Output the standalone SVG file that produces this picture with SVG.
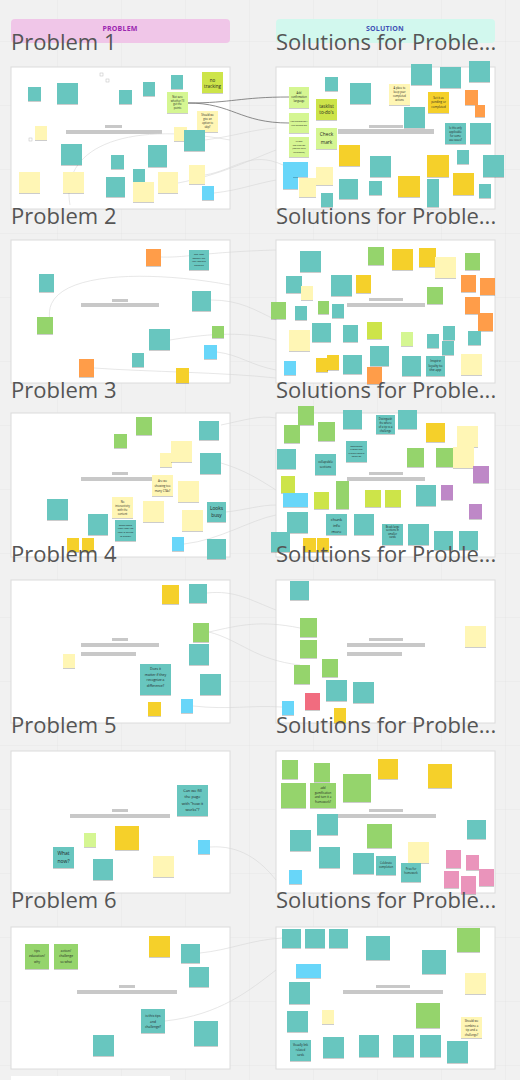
<svg xmlns="http://www.w3.org/2000/svg" width="520" height="1080" viewBox="0 0 520 1080">
<defs>
<pattern id="grid" width="64" height="64" patternUnits="userSpaceOnUse" x="-6" y="-22">
<path d="M64 0V64M0 64H64" fill="none" stroke="#e6e6e6" stroke-width="1"/>
</pattern>
<filter id="sh" x="-20%" y="-20%" width="140%" height="150%">
<feDropShadow dx="0" dy="0.8" stdDeviation="0.6" flood-color="#000" flood-opacity="0.25"/>
</filter>
</defs>
<style>
.panel{fill:#fff;stroke:#dcdcdc;stroke-width:1}
.bar{fill:#c8c8c8}
.t{fill:#67c6bf;filter:url(#sh)}
.y{fill:#f5d02a;filter:url(#sh)}
.py{fill:#fff6b5;filter:url(#sh)}
.g{fill:#95d46c;filter:url(#sh)}
.l{fill:#cde44a;filter:url(#sh)}
.lg{fill:#d5f692;filter:url(#sh)}
.o{fill:#ff9d48;filter:url(#sh)}
.b{fill:#67d6f9;filter:url(#sh)}
.v{fill:#be88c7;filter:url(#sh)}
.p{fill:#ea94bb;filter:url(#sh)}
.r{fill:#f16c7f;filter:url(#sh)}
.h{fill:#fff;stroke:#bdbdbd;stroke-width:0.5}
.tx{font-family:"Open Sans","Liberation Sans",sans-serif;fill:#1f1f1f;text-anchor:middle}
.lbl{font-family:"Open Sans","Liberation Sans",sans-serif;font-size:22px;fill:#555}
.hd{font-family:"Open Sans","Liberation Sans",sans-serif;font-size:7px;font-weight:bold;text-anchor:middle;letter-spacing:0.2px}
.cf{fill:none;stroke:#d6d6d6;stroke-width:0.6}
.cd{fill:none;stroke:#6e6e6e;stroke-width:0.8}
</style>
<rect width="520" height="1080" fill="#f1f1f1"/>
<rect width="520" height="1080" fill="url(#grid)"/>

<g id="headers">
<rect x="11" y="19" width="219" height="24" rx="4" fill="#f0c6e8"/>
<text class="hd" x="120" y="31" fill="#9c27b0">PROBLEM</text>
<rect x="276" y="19" width="219" height="24" rx="4" fill="#d2f8ee"/>
<text class="hd" x="385" y="31" fill="#3f51b5">SOLUTION</text>
</g>

<g id="panels">
<rect class="panel" x="11" y="67" width="219" height="142"/>
<rect class="panel" x="276" y="67" width="219" height="142"/>
<rect class="panel" x="11" y="240" width="219" height="143"/>
<rect class="panel" x="276" y="240" width="219" height="143"/>
<rect class="panel" x="11" y="413" width="219" height="144"/>
<rect class="panel" x="276" y="413" width="219" height="144"/>
<rect class="panel" x="11" y="580" width="219" height="143"/>
<rect class="panel" x="276" y="580" width="219" height="143"/>
<rect class="panel" x="11" y="751" width="219" height="142"/>
<rect class="panel" x="276" y="751" width="219" height="142"/>
<rect class="panel" x="11" y="927" width="219" height="142"/>
<rect class="panel" x="276" y="927" width="219" height="142"/>
<rect x="11" y="1076" width="159" height="6" fill="#fff"/>
</g>

<g id="bars">
<rect class="bar" x="105" y="125" width="17" height="3"/><rect class="bar" x="66" y="130" width="96" height="4"/>
<rect class="bar" x="369" y="125" width="34" height="3"/><rect class="bar" x="338" y="129" width="96" height="5"/>
<rect class="bar" x="112" y="299" width="16" height="3"/><rect class="bar" x="81" y="303" width="78" height="4"/>
<rect class="bar" x="369" y="298" width="34" height="3"/><rect class="bar" x="347" y="303" width="78" height="4"/>
<rect class="bar" x="112" y="472" width="16" height="3"/><rect class="bar" x="81" y="477" width="78" height="4"/>
<rect class="bar" x="369" y="472" width="34" height="3"/><rect class="bar" x="347" y="477" width="78" height="4"/>
<rect class="bar" x="112" y="638" width="16" height="3"/><rect class="bar" x="81" y="643" width="78" height="4"/><rect class="bar" x="81" y="652" width="55" height="4"/>
<rect class="bar" x="369" y="638" width="34" height="3"/><rect class="bar" x="347" y="643" width="78" height="4"/><rect class="bar" x="347" y="652" width="55" height="4"/>
<rect class="bar" x="112" y="809" width="16" height="3"/><rect class="bar" x="70" y="814" width="100" height="4"/>
<rect class="bar" x="369" y="809" width="34" height="3"/><rect class="bar" x="337" y="814" width="99" height="4"/>
<rect class="bar" x="119" y="985" width="16" height="3"/><rect class="bar" x="77" y="990" width="100" height="4"/>
<rect class="bar" x="376" y="985" width="34" height="3"/><rect class="bar" x="343" y="990" width="100" height="4"/>
</g>

<g id="connectors">
<path class="cf" d="M205,140 C240,135 250,130 276,128"/>
<path class="cf" d="M205,175 C235,170 250,150 283,165"/>
<path class="cf" d="M214,193 C240,190 250,185 276,180"/>
<path class="cf" d="M178,183 C220,175 250,160 276,150"/>
<path class="cf" d="M70,205 C60,150 120,120 230,140"/>
<path class="cf" d="M161,257 C185,258 205,252 276,250"/>
<path class="cf" d="M211,300 C240,300 255,310 276,320"/>
<path class="cf" d="M170,340 C200,335 240,330 276,340"/>
<path class="cf" d="M217,352 C240,355 250,365 276,370"/>
<path class="cf" d="M94,368 C150,372 220,372 276,378"/>
<path class="cf" d="M50,320 C40,270 150,270 230,285"/>
<path class="cf" d="M221,425 C245,420 260,415 276,418"/>
<path class="cf" d="M221,463 C245,470 260,480 276,490"/>
<path class="cf" d="M184,544 C220,540 250,520 276,515"/>
<path class="cf" d="M226,512 C245,510 260,505 276,505"/>
<path class="cf" d="M209,632 C240,640 255,660 300,665"/>
<path class="cf" d="M209,632 C240,625 260,620 300,628"/>
<path class="cf" d="M207,593 C235,590 250,600 276,610"/>
<path class="cf" d="M193,706 C230,710 250,705 282,707"/>
<path class="cf" d="M210,847 C240,845 260,860 276,880"/>
<path class="cf" d="M200,953 C230,950 250,940 282,938"/>
<path class="cf" d="M165,1021 C220,1015 250,990 276,970"/>
<path class="cd" d="M188,103 C232,103 240,97 289,97"/>
<path class="cd" d="M188,103 C232,103 240,123 289,123"/>
</g>

<g id="row1-left">
<rect class="h" x="100" y="73" width="3" height="3"/><rect class="h" x="106" y="79" width="3" height="3"/><rect class="h" x="29" y="138" width="3" height="3"/>
<g id="r1l1"><rect class="t" x="28" y="87" width="13" height="14"/></g>
<g id="r1l2"><rect class="t" x="57" y="83" width="21" height="21"/></g>
<g id="r1l3"><rect class="t" x="119" y="90" width="13" height="14"/></g>
<g id="r1l4"><rect class="t" x="143" y="82" width="12" height="14"/></g>
<g id="r1l5"><rect class="t" x="171" y="75" width="12" height="14"/></g>
<g id="r1l6"><rect class="l" x="202" y="72" width="21" height="21"/><text class="tx" font-size="4.5" x="212.5" y="82">no</text><text class="tx" font-size="4.5" x="212.5" y="87.5">tracking</text></g>
<g id="r1l7"><rect class="lg" x="167" y="92" width="21" height="21"/><text class="tx" font-size="2.6" x="177.5" y="98">Not sure</text><text class="tx" font-size="2.6" x="177.5" y="101.5">whether I'll</text><text class="tx" font-size="2.6" x="177.5" y="105">get the</text><text class="tx" font-size="2.6" x="177.5" y="108.5">points</text></g>
<g id="r1l8"><rect class="py" x="197" y="111" width="21" height="21"/><text class="tx" font-size="2.6" x="207.5" y="116">Should we</text><text class="tx" font-size="2.6" x="207.5" y="120">give an</text><text class="tx" font-size="2.6" x="207.5" y="124">option to</text><text class="tx" font-size="2.6" x="207.5" y="128">skip?</text></g>
<g id="r1l9"><rect class="py" x="35" y="126" width="12" height="14"/></g>
<g id="r1l10"><rect class="py" x="174" y="127" width="13" height="14"/></g>
<g id="r1l11"><rect class="t" x="184" y="130" width="21" height="21"/></g>
<g id="r1l12"><rect class="t" x="61" y="144" width="21" height="21"/></g>
<g id="r1l13"><rect class="t" x="148" y="145" width="19" height="22"/></g>
<g id="r1l14"><rect class="t" x="111" y="155" width="13" height="14"/></g>
<g id="r1l15"><rect class="py" x="19" y="172" width="21" height="21"/></g>
<g id="r1l16"><rect class="py" x="63" y="172" width="21" height="21"/></g>
<g id="r1l17"><rect class="t" x="133" y="169" width="12" height="13"/></g>
<g id="r1l18"><rect class="t" x="106" y="177" width="19" height="20"/></g>
<g id="r1l19"><rect class="py" x="133" y="182" width="21" height="20"/></g>
<g id="r1l20"><rect class="py" x="158" y="172" width="20" height="21"/></g>
<g id="r1l21"><rect class="py" x="189" y="165" width="16" height="19"/></g>
<g id="r1l22"><rect class="b" x="202" y="186" width="12" height="14"/></g>
</g>

<g id="row1-right">
<g id="r1r1"><rect class="t" x="325" y="77" width="13" height="14"/></g>
<g id="r1r2"><rect class="lg" x="289" y="87" width="20" height="21"/><text class="tx" font-size="2.6" x="299" y="94">Add</text><text class="tx" font-size="2.6" x="299" y="98">confirmation</text><text class="tx" font-size="2.6" x="299" y="102">language</text></g>
<g id="r1r3"><rect class="t" x="350" y="83" width="21" height="21"/></g>
<g id="r1r4"><rect class="l" x="316" y="99" width="21" height="21"/><text class="tx" font-size="4.5" x="326.5" y="107.5">tasklist</text><text class="tx" font-size="4.5" x="326.5" y="113.5">to-do's</text></g>
<g id="r1r5"><rect class="py" x="389" y="84" width="21" height="21"/><text class="tx" font-size="2.6" x="399.5" y="89">A place to</text><text class="tx" font-size="2.6" x="399.5" y="93">keep your</text><text class="tx" font-size="2.6" x="399.5" y="97">completed</text><text class="tx" font-size="2.6" x="399.5" y="101">actions</text></g>
<g id="r1r6"><rect class="t" x="411" y="64" width="21" height="21"/></g>
<g id="r1r7"><rect class="t" x="440" y="67" width="21" height="21"/></g>
<g id="r1r8"><rect class="t" x="469" y="61" width="21" height="21"/></g>
<g id="r1r9"><rect class="y" x="428" y="92" width="21" height="21"/><text class="tx" font-size="2.9" x="438.5" y="98.5">Set it as</text><text class="tx" font-size="2.9" x="438.5" y="103">pending or</text><text class="tx" font-size="2.9" x="438.5" y="107.5">completed</text></g>
<g id="r1r10"><rect class="o" x="465" y="90" width="13" height="15"/></g>
<g id="r1r11"><rect class="o" x="475" y="105" width="10" height="12"/></g>
<g id="r1r12"><rect class="lg" x="289" y="113" width="20" height="20"/><text class="tx" font-size="2.4" x="299" y="122">Add animation /</text><text class="tx" font-size="2.4" x="299" y="125.5">tick animation</text></g>
<g id="r1r13"><rect class="t" x="404" y="107" width="21" height="21"/></g>
<g id="r1r14"><rect class="lg" x="316" y="128" width="21" height="21"/><text class="tx" font-size="4.8" x="326.5" y="136">Check</text><text class="tx" font-size="4.8" x="326.5" y="144">mark</text></g>
<g id="r1r15"><rect class="lg" x="289" y="137" width="20" height="20"/><text class="tx" font-size="2.4" x="299" y="142">In app</text><text class="tx" font-size="2.4" x="299" y="145.5">notification</text><text class="tx" font-size="2.4" x="299" y="149">(maybe with</text><text class="tx" font-size="2.4" x="299" y="152.5">reference)</text></g>
<g id="r1r16"><rect class="t" x="445" y="123" width="21" height="21"/><text class="tx" font-size="2.6" x="455.5" y="128.5">Is this only</text><text class="tx" font-size="2.6" x="455.5" y="132.5">applicable</text><text class="tx" font-size="2.6" x="455.5" y="136.5">for some</text><text class="tx" font-size="2.6" x="455.5" y="140.5">use cases?</text></g>
<g id="r1r17"><rect class="t" x="470" y="123" width="21" height="21"/></g>
<g id="r1r18"><rect class="y" x="339" y="145" width="21" height="21"/></g>
<g id="r1r19"><rect class="t" x="370" y="156" width="21" height="21"/></g>
<g id="r1r20"><rect class="t" x="457" y="150" width="12" height="14"/></g>
<g id="r1r21"><rect class="y" x="427" y="155" width="22" height="22"/></g>
<g id="r1r22"><rect class="t" x="483" y="155" width="21" height="22"/></g>
<g id="r1r23"><rect class="b" x="283" y="162" width="15" height="27"/><rect class="b" x="293" y="162" width="15" height="15"/></g>
<g id="r1r24"><rect class="py" x="316" y="167" width="17" height="18"/></g>
<g id="r1r25"><rect class="py" x="299" y="178" width="17" height="19"/></g>
<g id="r1r26"><rect class="t" x="321" y="193" width="12" height="14"/></g>
<g id="r1r27"><rect class="t" x="339" y="179" width="19" height="20"/></g>
<g id="r1r28"><rect class="t" x="369" y="181" width="13" height="14"/></g>
<g id="r1r29"><rect class="y" x="398" y="176" width="22" height="21"/></g>
<g id="r1r30"><rect class="t" x="427" y="179" width="12" height="28"/></g>
<g id="r1r31"><rect class="y" x="453" y="173" width="21" height="22"/></g>
<g id="r1r32"><rect class="t" x="479" y="184" width="12" height="14"/></g>
</g>

<g id="row2-left">
<g id="r2l1"><rect class="o" x="146" y="249" width="15" height="17"/></g>
<g id="r2l2"><rect class="t" x="189" y="250" width="20" height="20"/><text class="tx" font-size="2.5" x="199" y="255">The user</text><text class="tx" font-size="2.5" x="199" y="258.5">doesn't get</text><text class="tx" font-size="2.5" x="199" y="262">the tangible</text><text class="tx" font-size="2.5" x="199" y="265.5">benefits</text></g>
<g id="r2l3"><rect class="t" x="39" y="274" width="15" height="18"/></g>
<g id="r2l4"><rect class="t" x="192" y="291" width="19" height="20"/></g>
<g id="r2l5"><rect class="g" x="37" y="317" width="16" height="17"/></g>
<g id="r2l6"><rect class="g" x="212" y="326" width="12" height="12"/></g>
<g id="r2l7"><rect class="t" x="149" y="329" width="21" height="21"/></g>
<g id="r2l8"><rect class="b" x="204" y="345" width="13" height="14"/></g>
<g id="r2l9"><rect class="t" x="132" y="353" width="12" height="14"/></g>
<g id="r2l10"><rect class="o" x="79" y="359" width="15" height="18"/></g>
<g id="r2l11"><rect class="y" x="176" y="368" width="13" height="15"/></g>
</g>

<g id="row2-right">
<g id="r2r1"><rect class="t" x="300" y="251" width="21" height="21"/></g>
<g id="r2r2"><rect class="g" x="368" y="247" width="16" height="18"/></g>
<g id="r2r3"><rect class="y" x="392" y="249" width="21" height="21"/></g>
<g id="r2r4"><rect class="y" x="419" y="248" width="17" height="19"/></g>
<g id="r2r5"><rect class="py" x="435" y="257" width="21" height="21"/></g>
<g id="r2r6"><rect class="g" x="465" y="253" width="15" height="17"/></g>
<g id="r2r7"><rect class="t" x="286" y="276" width="16" height="17"/></g>
<g id="r2r8"><rect class="py" x="301" y="286" width="12" height="14"/></g>
<g id="r2r9"><rect class="t" x="331" y="275" width="21" height="21"/></g>
<g id="r2r10"><rect class="y" x="356" y="275" width="15" height="18"/></g>
<g id="r2r11"><rect class="o" x="461" y="275" width="15" height="17"/></g>
<g id="r2r12"><rect class="o" x="480" y="278" width="15" height="17"/></g>
<g id="r2r13"><rect class="g" x="427" y="287" width="16" height="17"/></g>
<g id="r2r14"><rect class="g" x="271" y="302" width="15" height="17"/></g>
<g id="r2r15"><rect class="t" x="295" y="306" width="12" height="14"/></g>
<g id="r2r16"><rect class="g" x="318" y="301" width="11" height="13"/></g>
<g id="r2r17"><rect class="t" x="332" y="304" width="12" height="14"/></g>
<g id="r2r18"><rect class="o" x="465" y="297" width="15" height="17"/></g>
<g id="r2r19"><rect class="o" x="478" y="313" width="15" height="18"/></g>
<g id="r2r20"><rect class="l" x="367" y="322" width="15" height="17"/></g>
<g id="r2r21"><rect class="t" x="343" y="325" width="15" height="17"/></g>
<g id="r2r22"><rect class="t" x="312" y="323" width="19" height="19"/></g>
<g id="r2r23"><rect class="py" x="289" y="330" width="21" height="21"/></g>
<g id="r2r24"><rect class="lg" x="401" y="332" width="12" height="14"/></g>
<g id="r2r25"><rect class="t" x="443" y="326" width="12" height="14"/></g>
<g id="r2r26"><rect class="t" x="427" y="334" width="12" height="14"/></g>
<g id="r2r27"><rect class="t" x="442" y="341" width="12" height="14"/></g>
<g id="r2r28"><rect class="t" x="468" y="331" width="13" height="14"/></g>
<g id="r2r29"><rect class="t" x="370" y="346" width="19" height="20"/></g>
<g id="r2r30"><rect class="b" x="284" y="361" width="12" height="14"/></g>
<g id="r2r31"><rect class="y" x="316" y="358" width="12" height="14"/><rect class="y" x="327" y="355" width="12" height="15"/></g>
<g id="r2r32"><rect class="t" x="343" y="355" width="19" height="19"/></g>
<g id="r2r33"><rect class="o" x="367" y="367" width="15" height="17"/></g>
<g id="r2r34"><rect class="t" x="402" y="356" width="19" height="20"/></g>
<g id="r2r35"><rect class="t" x="426" y="356" width="19" height="20"/><text class="tx" font-size="3.3" x="435.5" y="362">Inspire</text><text class="tx" font-size="3.3" x="435.5" y="366.5">loyalty to</text><text class="tx" font-size="3.3" x="435.5" y="371">the app</text></g>
<g id="r2r36"><rect class="py" x="461" y="354" width="21" height="21"/></g>
</g>

<g id="row3-left">
<g id="r3l1"><rect class="g" x="136" y="417" width="16" height="18"/></g>
<g id="r3l2"><rect class="t" x="199" y="421" width="20" height="19"/></g>
<g id="r3l3"><rect class="g" x="114" y="434" width="13" height="14"/></g>
<g id="r3l4"><rect class="py" x="160" y="453" width="12" height="14"/></g>
<g id="r3l5"><rect class="py" x="171" y="441" width="21" height="21"/></g>
<g id="r3l6"><rect class="t" x="200" y="453" width="21" height="21"/></g>
<g id="r3l7"><rect class="py" x="152" y="475" width="21" height="21"/><text class="tx" font-size="2.8" x="162.5" y="482">Are we</text><text class="tx" font-size="2.8" x="162.5" y="487">showing too</text><text class="tx" font-size="2.8" x="162.5" y="492">many CTAs?</text></g>
<g id="r3l8"><rect class="py" x="178" y="481" width="21" height="21"/></g>
<g id="r3l9"><rect class="t" x="47" y="499" width="21" height="21"/></g>
<g id="r3l10"><rect class="py" x="112" y="497" width="21" height="21"/><text class="tx" font-size="2.7" x="122.5" y="503">No</text><text class="tx" font-size="2.7" x="122.5" y="507">interactivity</text><text class="tx" font-size="2.7" x="122.5" y="511">with the</text><text class="tx" font-size="2.7" x="122.5" y="515">content</text></g>
<g id="r3l11"><rect class="py" x="143" y="501" width="21" height="21"/></g>
<g id="r3l12"><rect class="t" x="207" y="502" width="19" height="20"/><text class="tx" font-size="4.8" x="216.5" y="510">Looks</text><text class="tx" font-size="4.8" x="216.5" y="517">busy</text></g>
<g id="r3l13"><rect class="py" x="182" y="510" width="21" height="21"/></g>
<g id="r3l14"><rect class="t" x="88" y="514" width="20" height="21"/></g>
<g id="r3l15"><rect class="t" x="115" y="520" width="21" height="21"/><text class="tx" font-size="2.5" x="125.5" y="525.5">Takes more</text><text class="tx" font-size="2.5" x="125.5" y="529.2">time than the</text><text class="tx" font-size="2.5" x="125.5" y="532.9">user is willing</text><text class="tx" font-size="2.5" x="125.5" y="536.6">to submit</text></g>
<g id="r3l16"><rect class="b" x="172" y="537" width="12" height="14"/></g>
<g id="r3l17"><rect class="t" x="207" y="539" width="19" height="20"/></g>
<g id="r3l18"><rect class="y" x="67" y="538" width="12" height="14"/><rect class="y" x="82" y="538" width="12" height="14"/></g>
</g>

<g id="row3-right">
<g id="r3r1"><rect class="g" x="298" y="406" width="16" height="19"/></g>
<g id="r3r2"><rect class="g" x="284" y="425" width="16" height="18"/></g>
<g id="r3r3"><rect class="g" x="318" y="422" width="17" height="19"/></g>
<g id="r3r4"><rect class="t" x="343" y="410" width="19" height="19"/></g>
<g id="r3r5"><rect class="t" x="376" y="415" width="19" height="19"/><text class="tx" font-size="2.6" x="385.5" y="419.5">Distinguish</text><text class="tx" font-size="2.6" x="385.5" y="423.5">the where</text><text class="tx" font-size="2.6" x="385.5" y="427.5">of a tip vs a</text><text class="tx" font-size="2.6" x="385.5" y="431.5">challenge</text></g>
<g id="r3r6"><rect class="t" x="398" y="410" width="19" height="19"/></g>
<g id="r3r7"><rect class="y" x="426" y="423" width="19" height="19"/></g>
<g id="r3r8"><rect class="py" x="457" y="426" width="21" height="21"/></g>
<g id="r3r9"><rect class="t" x="277" y="449" width="19" height="20"/></g>
<g id="r3r10"><rect class="t" x="315" y="454" width="21" height="21"/><text class="tx" font-size="3" x="325.5" y="463">collapsible</text><text class="tx" font-size="3" x="325.5" y="467.5">sections</text></g>
<g id="r3r11"><rect class="t" x="346" y="441" width="21" height="21"/><text class="tx" font-size="2.4" x="356.5" y="446.5">Embedded</text><text class="tx" font-size="2.4" x="356.5" y="450">videos that</text><text class="tx" font-size="2.4" x="356.5" y="453.5">explain what's</text><text class="tx" font-size="2.4" x="356.5" y="457">going on</text></g>
<g id="r3r12"><rect class="g" x="407" y="448" width="17" height="19"/></g>
<g id="r3r13"><rect class="g" x="436" y="448" width="17" height="19"/></g>
<g id="r3r14"><rect class="py" x="453" y="447" width="21" height="21"/></g>
<g id="r3r15"><rect class="v" x="473" y="466" width="16" height="17"/></g>
<g id="r3r16"><rect class="l" x="281" y="476" width="14" height="17"/></g>
<g id="r3r17"><rect class="b" x="283" y="493" width="25" height="14"/></g>
<g id="r3r18"><rect class="l" x="314" y="492" width="15" height="17"/></g>
<g id="r3r19"><rect class="g" x="336" y="481" width="13" height="28"/></g>
<g id="r3r20"><rect class="l" x="365" y="490" width="16" height="17"/></g>
<g id="r3r21"><rect class="l" x="385" y="490" width="16" height="17"/></g>
<g id="r3r22"><rect class="t" x="416" y="485" width="20" height="21"/></g>
<g id="r3r23"><rect class="v" x="441" y="485" width="12" height="15"/></g>
<g id="r3r24"><rect class="v" x="469" y="504" width="13" height="15"/></g>
<g id="r3r25"><rect class="t" x="287" y="512" width="21" height="21"/></g>
<g id="r3r26"><rect class="t" x="326" y="514" width="21" height="21"/><text class="tx" font-size="4" x="336.5" y="520.5">chunk</text><text class="tx" font-size="4" x="336.5" y="526.5">info</text><text class="tx" font-size="4" x="336.5" y="532.5">more</text></g>
<g id="r3r27"><rect class="t" x="354" y="514" width="20" height="21"/></g>
<g id="r3r28"><rect class="t" x="382" y="524" width="21" height="21"/><text class="tx" font-size="2.6" x="392.5" y="528">Break large</text><text class="tx" font-size="2.6" x="392.5" y="531.3">sections in</text><text class="tx" font-size="2.6" x="392.5" y="534.6">smaller</text><text class="tx" font-size="2.6" x="392.5" y="537.9">cards</text></g>
<g id="r3r29"><rect class="t" x="408" y="524" width="21" height="21"/></g>
<g id="r3r30"><rect class="t" x="434" y="531" width="19" height="19"/></g>
<g id="r3r31"><rect class="t" x="459" y="531" width="19" height="19"/></g>
<g id="r3r32"><rect class="t" x="271" y="532" width="19" height="20"/></g>
<g id="r3r33"><rect class="y" x="303" y="538" width="13" height="14"/><rect class="y" x="317" y="538" width="12" height="14"/></g>
</g>

<g id="row4-left">
<g id="r4l1"><rect class="y" x="162" y="585" width="17" height="19"/></g>
<g id="r4l2"><rect class="t" x="189" y="584" width="18" height="19"/></g>
<g id="r4l3"><rect class="g" x="193" y="623" width="16" height="19"/></g>
<g id="r4l4"><rect class="t" x="189" y="644" width="20" height="21"/></g>
<g id="r4l5"><rect class="py" x="63" y="654" width="12" height="14"/></g>
<g id="r4l6"><rect class="t" x="140" y="664" width="31" height="31"/><text class="tx" font-size="3.4" x="155.5" y="670">Does it</text><text class="tx" font-size="3.4" x="155.5" y="675.5">matter if they</text><text class="tx" font-size="3.4" x="155.5" y="681">recognize a</text><text class="tx" font-size="3.4" x="155.5" y="686.5">difference?</text></g>
<g id="r4l7"><rect class="t" x="200" y="674" width="21" height="21"/></g>
<g id="r4l8"><rect class="b" x="181" y="699" width="12" height="14"/></g>
<g id="r4l9"><rect class="y" x="148" y="702" width="13" height="14"/></g>
</g>

<g id="row4-right">
<g id="r4r1"><rect class="t" x="290" y="581" width="19" height="19"/></g>
<g id="r4r2"><rect class="g" x="300" y="618" width="17" height="19"/></g>
<g id="r4r3"><rect class="g" x="300" y="640" width="17" height="18"/></g>
<g id="r4r4"><rect class="py" x="465" y="626" width="21" height="21"/></g>
<g id="r4r5"><rect class="g" x="294" y="665" width="16" height="19"/></g>
<g id="r4r6"><rect class="g" x="322" y="659" width="16" height="18"/></g>
<g id="r4r7"><rect class="t" x="326" y="680" width="21" height="21"/></g>
<g id="r4r8"><rect class="t" x="353" y="682" width="21" height="21"/></g>
<g id="r4r9"><rect class="r" x="305" y="693" width="15" height="17"/></g>
<g id="r4r10"><rect class="b" x="282" y="701" width="12" height="14"/></g>
<g id="r4r11"><rect class="y" x="334" y="708" width="12" height="15"/></g>
</g>

<g id="row5-left">
<g id="r5l1"><rect class="t" x="177" y="785" width="31" height="31"/><text class="tx" font-size="3.9" x="192.5" y="791.5">Can we fill</text><text class="tx" font-size="3.9" x="192.5" y="798">the page</text><text class="tx" font-size="3.9" x="192.5" y="804.5">with "how it</text><text class="tx" font-size="3.9" x="192.5" y="811">works"?</text></g>
<g id="r5l2"><rect class="lg" x="84" y="833" width="12" height="14"/></g>
<g id="r5l3"><rect class="y" x="115" y="826" width="24" height="24"/></g>
<g id="r5l4"><rect class="b" x="198" y="840" width="12" height="14"/></g>
<g id="r5l5"><rect class="t" x="53" y="847" width="21" height="21"/><text class="tx" font-size="5" x="63.5" y="855">What</text><text class="tx" font-size="5" x="63.5" y="863">now?</text></g>
<g id="r5l6"><rect class="t" x="93" y="859" width="20" height="21"/></g>
<g id="r5l7"><rect class="py" x="153" y="856" width="21" height="21"/></g>
</g>

<g id="row5-right">
<g id="r5r1"><rect class="g" x="282" y="760" width="16" height="19"/></g>
<g id="r5r2"><rect class="g" x="314" y="763" width="16" height="19"/></g>
<g id="r5r3"><rect class="y" x="378" y="759" width="20" height="20"/></g>
<g id="r5r4"><rect class="y" x="428" y="764" width="24" height="24"/></g>
<g id="r5r5"><rect class="g" x="281" y="783" width="25" height="25"/></g>
<g id="r5r6"><rect class="g" x="310" y="783" width="26" height="25"/><text class="tx" font-size="2.9" x="323" y="789">add</text><text class="tx" font-size="2.9" x="323" y="793.5">gamification</text><text class="tx" font-size="2.9" x="323" y="798">and turn it a</text><text class="tx" font-size="2.9" x="323" y="802.5">framework?</text></g>
<g id="r5r7"><rect class="g" x="343" y="774" width="28" height="28"/></g>
<g id="r5r8"><rect class="t" x="317" y="814" width="21" height="21"/></g>
<g id="r5r9"><rect class="t" x="290" y="830" width="21" height="21"/></g>
<g id="r5r10"><rect class="g" x="367" y="824" width="25" height="24"/></g>
<g id="r5r11"><rect class="t" x="467" y="820" width="19" height="19"/></g>
<g id="r5r12"><rect class="t" x="319" y="847" width="21" height="21"/></g>
<g id="r5r13"><rect class="t" x="353" y="853" width="21" height="21"/></g>
<g id="r5r14"><rect class="t" x="376" y="856" width="20" height="19"/><text class="tx" font-size="2.7" x="386" y="864">Celebrate</text><text class="tx" font-size="2.7" x="386" y="868">completion</text></g>
<g id="r5r15"><rect class="py" x="408" y="842" width="21" height="21"/></g>
<g id="r5r16"><rect class="t" x="401" y="863" width="20" height="19"/><text class="tx" font-size="2.7" x="411" y="870">Prize for</text><text class="tx" font-size="2.7" x="411" y="874">homework</text></g>
<g id="r5r17"><rect class="p" x="446" y="850" width="15" height="18"/></g>
<g id="r5r18"><rect class="p" x="466" y="855" width="13" height="15"/></g>
<g id="r5r19"><rect class="p" x="444" y="871" width="15" height="17"/></g>
<g id="r5r20"><rect class="p" x="461" y="876" width="15" height="18"/></g>
<g id="r5r21"><rect class="p" x="479" y="869" width="15" height="17"/></g>
<g id="r5r22"><rect class="b" x="289" y="870" width="13" height="14"/></g>
</g>

<g id="row6-left">
<g id="r6l1"><rect class="g" x="25" y="944" width="24" height="25"/><text class="tx" font-size="3.2" x="37" y="951.5">tips</text><text class="tx" font-size="3.2" x="37" y="957">education/</text><text class="tx" font-size="3.2" x="37" y="962.5">why</text></g>
<g id="r6l2"><rect class="g" x="54" y="944" width="24" height="25"/><text class="tx" font-size="3.2" x="66" y="951.5">action/</text><text class="tx" font-size="3.2" x="66" y="957">challenge</text><text class="tx" font-size="3.2" x="66" y="962.5">so what</text></g>
<g id="r6l3"><rect class="y" x="149" y="936" width="21" height="21"/></g>
<g id="r6l4"><rect class="t" x="181" y="944" width="19" height="19"/></g>
<g id="r6l5"><rect class="t" x="189" y="967" width="20" height="20"/></g>
<g id="r6l6"><rect class="t" x="141" y="1009" width="24" height="24"/><text class="tx" font-size="3.3" x="153" y="1017">is this tips</text><text class="tx" font-size="3.3" x="153" y="1022.5">and</text><text class="tx" font-size="3.3" x="153" y="1028">challenge?</text></g>
<g id="r6l7"><rect class="t" x="194" y="1021" width="24" height="25"/></g>
<g id="r6l8"><rect class="t" x="93" y="1035" width="21" height="21"/></g>
</g>

<g id="row6-right">
<g id="r6r1"><rect class="t" x="282" y="929" width="19" height="19"/></g>
<g id="r6r2"><rect class="t" x="305" y="929" width="20" height="19"/></g>
<g id="r6r3"><rect class="t" x="329" y="929" width="19" height="19"/></g>
<g id="r6r4"><rect class="t" x="366" y="936" width="24" height="24"/></g>
<g id="r6r5"><rect class="g" x="457" y="928" width="23" height="24"/></g>
<g id="r6r6"><rect class="t" x="422" y="950" width="24" height="24"/></g>
<g id="r6r7"><rect class="b" x="296" y="964" width="13" height="14"/><rect class="b" x="309" y="964" width="12" height="14"/></g>
<g id="r6r8"><rect class="py" x="465" y="973" width="21" height="21"/></g>
<g id="r6r9"><rect class="t" x="289" y="982" width="21" height="22"/></g>
<g id="r6r10"><rect class="g" x="416" y="1003" width="24" height="25"/></g>
<g id="r6r11"><rect class="py" x="322" y="1010" width="12" height="14"/></g>
<g id="r6r12"><rect class="t" x="287" y="1011" width="21" height="21"/></g>
<g id="r6r13"><rect class="py" x="461" y="1017" width="21" height="21"/><text class="tx" font-size="2.8" x="471.5" y="1022">Should we</text><text class="tx" font-size="2.8" x="471.5" y="1026.5">combine a</text><text class="tx" font-size="2.8" x="471.5" y="1031">tip and a</text><text class="tx" font-size="2.8" x="471.5" y="1035.5">challenge?</text></g>
<g id="r6r14"><rect class="t" x="290" y="1040" width="21" height="21"/><text class="tx" font-size="2.8" x="300.5" y="1046">Visually link</text><text class="tx" font-size="2.8" x="300.5" y="1051">related</text><text class="tx" font-size="2.8" x="300.5" y="1056">cards</text></g>
<g id="r6r15"><rect class="t" x="323" y="1037" width="21" height="21"/></g>
<g id="r6r16"><rect class="t" x="359" y="1035" width="20" height="22"/></g>
<g id="r6r17"><rect class="t" x="393" y="1035" width="21" height="22"/></g>
<g id="r6r18"><rect class="t" x="420" y="1035" width="21" height="22"/></g>
<g id="r6r19"><rect class="t" x="447" y="1041" width="21" height="22"/></g>
</g>

<g id="labels">
<text class="lbl" x="11" y="50">Problem 1</text>
<text class="lbl" x="276" y="50">Solutions for Proble...</text>
<text class="lbl" x="11" y="224">Problem 2</text>
<text class="lbl" x="276" y="224">Solutions for Proble...</text>
<text class="lbl" x="11" y="398">Problem 3</text>
<text class="lbl" x="276" y="398">Solutions for Proble...</text>
<text class="lbl" x="11" y="562">Problem 4</text>
<text class="lbl" x="276" y="562">Solutions for Proble...</text>
<text class="lbl" x="11" y="733">Problem 5</text>
<text class="lbl" x="276" y="733">Solutions for Proble...</text>
<text class="lbl" x="11" y="908">Problem 6</text>
<text class="lbl" x="276" y="908">Solutions for Proble...</text>
</g>
</svg>
